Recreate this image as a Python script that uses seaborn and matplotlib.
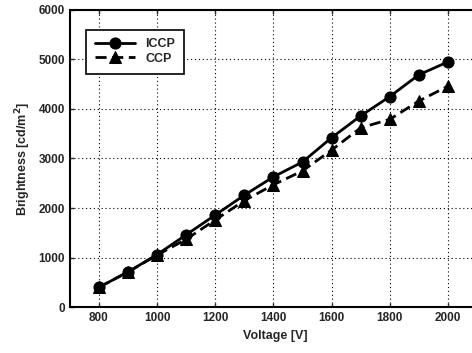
import matplotlib
matplotlib.use("Agg")
import matplotlib.pyplot as plt
import seaborn as sns
import pandas as pd

voltage = [800, 900, 1000, 1100, 1200, 1300, 1400, 1500, 1600, 1700, 1800, 1900, 2000]
iccp = [400, 710, 1060, 1460, 1860, 2260, 2630, 2930, 3420, 3860, 4250, 4690, 4950]
ccp = [400, 710, 1050, 1370, 1760, 2150, 2470, 2750, 3170, 3620, 3790, 4160, 4460]

sns.set_style("ticks")
plt.rcParams['font.family'] = ['Liberation Sans', 'DejaVu Sans']
plt.rcParams['font.weight'] = 'bold'

fig = plt.figure(figsize=(4.72, 3.53), dpi=100)
ax = fig.add_axes([0.148, 0.13, 0.87, 0.842])

df_i = pd.DataFrame({"Voltage": voltage, "Brightness": iccp})
df_c = pd.DataFrame({"Voltage": voltage, "Brightness": ccp})

sns.lineplot(data=df_i, x="Voltage", y="Brightness", ax=ax, color="black",
             marker="o", markersize=8, markeredgecolor="black", linewidth=2)
sns.lineplot(data=df_c, x="Voltage", y="Brightness", ax=ax, color="black",
             marker="^", markersize=8, markeredgecolor="black", linewidth=2,
             linestyle=(0, (4, 2)))

ax.set_xlim(700, 2112)
ax.set_ylim(0, 6000)
ax.set_xticks([800, 1000, 1200, 1400, 1600, 1800, 2000])
ax.set_yticks([0, 1000, 2000, 3000, 4000, 5000, 6000])
ax.grid(True, color="black", linestyle=(0, (1, 2.5)), linewidth=0.8)
ax.tick_params(direction="in", labelsize=8.5, top=True, length=3, width=1)
ax.spines["right"].set_visible(False)
for s in ["left", "bottom", "top"]:
    ax.spines[s].set_linewidth(1.5)
    ax.spines[s].set_color("black")

ax.set_xlabel("Voltage [V]", fontsize=9, fontweight="bold")
ax.set_ylabel("Brightness [cd/m$^\\mathbf{2}$]", fontsize=9, fontweight="bold")

leg = ax.legend(handles=ax.lines[:2], labels=["ICCP", "CCP"], loc="upper left",
                bbox_to_anchor=(0.025, 0.955), fontsize=9,
                frameon=True, fancybox=False, edgecolor="black", framealpha=1,
                handlelength=3.2, borderpad=0.7, labelspacing=0.2)
leg.get_frame().set_linewidth(1.2)

fig.savefig("out.png", dpi=100)
